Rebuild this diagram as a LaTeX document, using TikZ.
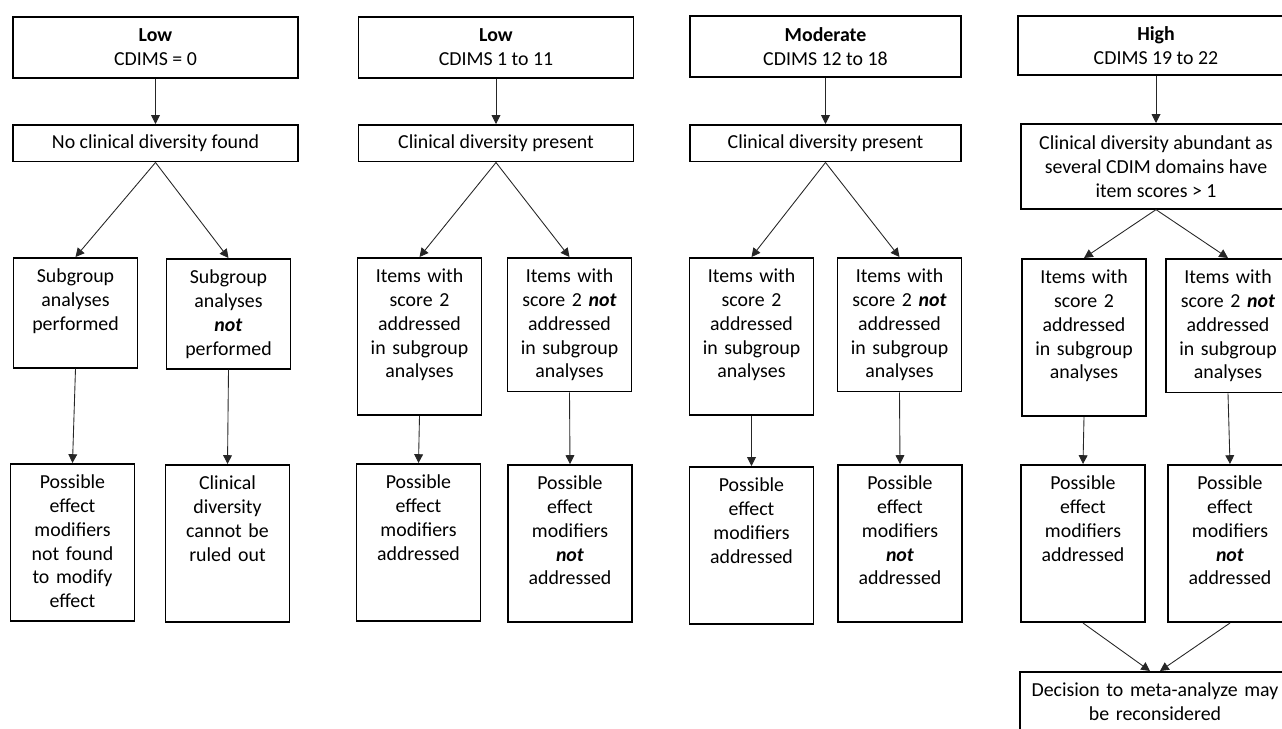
\documentclass[tikz,border=0pt]{standalone}
\usepackage{fontspec}
\setmainfont{Carlito}
\usetikzlibrary{arrows.meta, calc}
\tikzset{
    box/.style={draw, line width=0.9pt, align=center, anchor=north,
        font=\fontsize{11.3}{13.6}\selectfont},
    headbox/.style={box, inner sep=2pt},
    cellbox/.style={box, text width=2.2cm, minimum width=2.48cm,
        inner xsep=2pt, inner ysep=3.5pt, text height=10.5pt},
    shortbox/.style={cellbox, text depth=45.1pt},
    midbox/.style={cellbox, text depth=58.7pt},
    longbox/.style={cellbox, text depth=72.1pt},
    link/.style={draw=black!85, line width=0.5pt, -{Triangle[length=5pt,width=5pt]}}
}
\newcommand{\nt}{\textbf{\textit{not}}}

\begin{document}
\begin{tikzpicture}[x=0.02cm, y=-0.02cm]

    \useasboundingbox (0,0) rectangle (1282,728);

    % Columna 1
    \node[headbox, minimum width=5.7cm, minimum height=34.7pt] (L1) at (155.5,16) {\textbf{Low}\\CDIMS = 0};
    \node[headbox, minimum width=5.7cm, minimum height=21pt] (D1) at (155.5,124) {No clinical diversity found};
    \node[shortbox] (Y1) at (75.5,257) {Subgroup\\analyses\\performed};
    \node[shortbox] (N1) at (228.5,258) {Subgroup\\analyses\\\nt\\performed};
    \node[longbox] (PY1) at (72.5,463) {Possible\\effect\\modifiers\\not found\\to modify\\effect};
    \node[longbox] (PN1) at (227.5,464) {Clinical\\diversity\\cannot be\\ruled out};

    % Columna 2
    \node[headbox, minimum width=5.5cm, minimum height=34.7pt] (L2) at (496,16) {\textbf{Low}\\CDIMS 1 to 11};
    \node[headbox, minimum width=5.5cm, minimum height=21pt] (D2) at (496,124) {Clinical diversity present};
    \node[longbox] (Y2) at (419.5,257) {Items with\\score 2\\addressed\\in subgroup\\analyses};
    \node[midbox] (N2) at (569.5,257) {Items with\\score 2 \nt\\addressed\\in subgroup\\analyses};
    \node[longbox] (PY2) at (418.5,463) {Possible\\effect\\modifiers\\addressed};
    \node[longbox] (PN2) at (570,464) {Possible\\effect\\modifiers\\\nt\\addressed};

    % Columna 3
    \node[headbox, minimum width=5.42cm, minimum height=34.7pt] (L3) at (825.5,15) {\textbf{Moderate}\\CDIMS 12 to 18};
    \node[headbox, minimum width=5.42cm, minimum height=21pt] (D3) at (825.5,124) {Clinical diversity present};
    \node[longbox] (Y3) at (751.5,257) {Items with\\score 2\\addressed\\in subgroup\\analyses};
    \node[midbox] (N3) at (899.5,257) {Items with\\score 2 \nt\\addressed\\in subgroup\\analyses};
    \node[longbox] (PY3) at (751.5,466) {Possible\\effect\\modifiers\\addressed};
    \node[longbox] (PN3) at (900,464) {Possible\\effect\\modifiers\\\nt\\addressed};

    % Columna 4
    \node[headbox, minimum width=5.52cm, minimum height=33.6pt] (L4) at (1156,15) {\textbf{High}\\CDIMS 19 to 22};
    \node[headbox, minimum width=5.4cm, minimum height=48.4pt] (D4) at (1156,123) {Clinical diversity abundant as\\several CDIM domains have\\item scores > 1};
    \node[longbox] (Y4) at (1084,258) {Items with\\score 2\\addressed\\in subgroup\\analyses};
    \node[midbox] (N4) at (1228,258) {Items with\\score 2 \nt\\addressed\\in subgroup\\analyses};
    \node[longbox] (PY4) at (1083,464) {Possible\\effect\\modifiers\\addressed};
    \node[longbox] (PN4) at (1230,464) {Possible\\effect\\modifiers\\\nt\\addressed};
    \node[longbox, text width=5.1cm, minimum width=5.4cm] (R) at (1155,671) {Decision to meta-analyze may\\be reconsidered};

    % Flechas
    \foreach \c in {1,...,4} {
        \draw[link] (L\c.south) -- (D\c.north);
        \draw[link] (D\c.south) -- (Y\c.north);
        \draw[link] (D\c.south) -- (N\c.north);
        \draw[link] (Y\c.south) -- (PY\c.north);
        \draw[link] (N\c.south) -- (PN\c.north);
    }
    \coordinate (RL) at ($(R.north)+(-5,0)$);
    \coordinate (RR) at ($(R.north)+(5,0)$);
    \draw[link] (PY4.south) -- (RL);
    \draw[link] (PN4.south) -- (RR);

\end{tikzpicture}
\end{document}
